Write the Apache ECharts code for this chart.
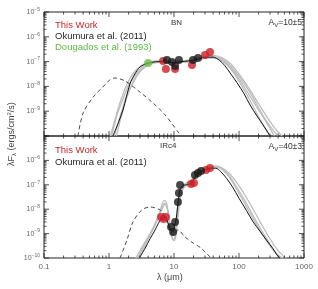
<!DOCTYPE html>
<html><head><meta charset="utf-8">
<script src="https://cdn.jsdelivr.net/npm/echarts@6/dist/echarts.min.js"></script>
<style>html,body{margin:0;padding:0;background:#fff}#c{width:318px;height:289px}</style>
</head><body><div id="c"></div>
<script>
// ---- tick labels ----
const xTickLabels = {'-1':'0.1','0':'1','1':'10','2':'100','3':'1000'};
const yTickExps = {'-5':'−5','-6':'−6','-7':'−7','-8':'−8','-9':'−9','-10':'−10'};
const xDecades = [0.1, 1, 10, 100];
const yDecades = [1e-10, 1e-9, 1e-8, 1e-7, 1e-6];
const minorMultipliers = [2, 3, 4, 5, 6, 7, 8, 9];

// ---- BN panel (log10 flux values) ----
const bnRedLam = [6.8, 7.5, 10.4, 18.9, 30, 35.8];
const bnRedLogF = [-6.98, -7.30, -7.30, -7.14, -6.73, -6.61];
const bnBlackLam = [7.8, 9.3, 10.4, 11.9, 19.6, 23.4];
const bnBlackLogF = [-6.94, -7.02, -7.18, -6.94, -6.94, -6.85];
const bnGreenLam = [4.0];
const bnGreenLogF = [-7.06];
const bnModelLam = [1.15, 1.4, 1.64, 2.1, 2.5, 3.0, 4.0, 6.0, 8.0, 10, 13, 16, 20, 25, 30, 40, 50, 60, 75, 93, 120, 148, 190, 234, 270, 300];
const bnModelLogF = [-10, -9.45, -8.95, -7.9, -7.5, -7.22, -7.06, -7.0, -7.02, -7.04, -7.0, -6.98, -6.95, -6.88, -6.82, -6.82, -6.95, -7.15, -7.5, -7.85, -8.3, -8.75, -9.2, -9.55, -9.8, -10];
const bnGray1Lam = [1.05, 1.25, 1.5, 1.9, 2.4, 3.0, 4.0, 6, 10, 15, 20, 30, 40, 55, 75, 100, 140, 200, 280, 360, 460];
const bnGray1LogF = [-10, -9.3, -8.6, -7.9, -7.45, -7.2, -7.02, -6.96, -6.98, -6.95, -6.9, -6.78, -6.75, -6.85, -7.1, -7.5, -8.05, -8.7, -9.3, -9.7, -10];
const bnGray2Lam = [1.2, 1.45, 1.75, 2.2, 2.7, 3.3, 4.2, 6, 10, 15, 20, 30, 40, 55, 75, 100, 140, 200, 270, 350];
const bnGray2LogF = [-10, -9.3, -8.6, -7.95, -7.55, -7.3, -7.1, -7.03, -7.06, -7.02, -6.98, -6.87, -6.85, -6.95, -7.25, -7.7, -8.3, -8.95, -9.5, -10];
const bnGray3Lam = [1.3, 1.55, 1.9, 2.4, 3.0, 3.6, 4.5, 6, 10, 15, 20, 30, 40, 55, 75, 100, 140, 190, 250, 320, 400];
const bnGray3LogF = [-10, -9.2, -8.4, -7.8, -7.4, -7.2, -7.07, -7.0, -7.02, -6.99, -6.94, -6.84, -6.8, -6.9, -7.2, -7.6, -8.15, -8.75, -9.3, -9.7, -10];
const bnGray4Lam = [1.1, 1.35, 1.65, 2.0, 2.6, 3.2, 4, 6, 10, 15, 20, 30, 40, 55, 75, 100, 140, 180, 240, 300];
const bnGray4LogF = [-10, -9.1, -8.5, -7.95, -7.5, -7.25, -7.08, -7.02, -7.04, -7.0, -6.96, -6.86, -6.84, -6.97, -7.3, -7.8, -8.45, -9.0, -9.6, -10];
const bnDashLam = [0.333, 0.40, 0.57, 0.78, 1.03, 1.24, 1.76, 3.0, 4.75, 7.3, 12.8];
const bnDashLogF = [-10, -9.07, -8.43, -8.06, -7.74, -7.66, -7.78, -8.23, -8.67, -9.15, -10];

// ---- IRc4 panel ----
const irRedLam = [6.3, 6.9, 7.5, 18.3, 20.3, 31, 35.8];
const irRedLogF = [-8.32, -8.4, -8.32, -6.97, -6.93, -6.39, -6.31];
const irBlackLam = [9.0, 9.7, 10.4, 11.5, 11.9, 12.4, 21, 23.4, 26];
const irBlackLogF = [-8.73, -8.93, -8.52, -7.70, -7.34, -7.01, -6.60, -6.52, -6.43];
const irModelLam = [2.9, 3.6, 4.3, 5.0, 5.7, 6.4, 7.0, 7.7, 8.4, 9.0, 9.6, 10.2, 10.8, 11.3, 11.9, 12.5, 14, 16, 18.5, 21, 25, 30, 36, 44, 52, 65, 80, 100, 130, 165, 210, 270, 330, 385, 430];
const irModelLogF = [-10, -9.6, -9.2, -8.9, -8.6, -8.35, -8.28, -8.4, -8.7, -8.85, -8.95, -8.7, -8.4, -7.95, -7.45, -7.15, -7.02, -7.0, -6.95, -6.7, -6.5, -6.4, -6.33, -6.32, -6.45, -6.75, -7.1, -7.55, -8.05, -8.52, -8.9, -9.3, -9.6, -9.88, -10];
const irGray1Lam = [2.6, 3.3, 4.3, 5.2, 6.0, 7.0, 7.6, 8.3, 9.0, 9.7, 10.4, 11.1, 11.8, 12.6, 14, 17, 21, 26, 32, 40, 50, 62, 80, 100, 130, 170, 220, 290, 380, 470];
const irGray1LogF = [-10, -9.5, -9.0, -8.55, -8.15, -7.65, -7.7, -8.3, -8.9, -9.05, -8.8, -8.2, -7.6, -7.2, -7.0, -6.88, -6.65, -6.45, -6.32, -6.25, -6.3, -6.5, -6.9, -7.35, -7.9, -8.45, -8.95, -9.45, -9.85, -10];
const irGray2Lam = [2.8, 3.5, 4.5, 5.4, 6.2, 7.1, 7.8, 8.5, 9.2, 9.9, 10.6, 11.3, 12, 13, 15, 18, 22, 28, 35, 44, 55, 70, 90, 120, 160, 210, 280, 360, 450];
const irGray2LogF = [-10, -9.45, -8.95, -8.5, -8.1, -7.75, -7.9, -8.55, -9.1, -9.25, -8.95, -8.3, -7.7, -7.25, -7.0, -6.85, -6.62, -6.42, -6.3, -6.26, -6.35, -6.6, -7.05, -7.6, -8.2, -8.75, -9.3, -9.75, -10];
const irGray3Lam = [3.0, 3.8, 4.7, 5.6, 6.4, 7.2, 8.0, 8.7, 9.4, 10.1, 10.8, 11.5, 12.3, 13.5, 16, 19, 23, 29, 36, 45, 56, 72, 95, 125, 165, 215, 290, 400, 520];
const irGray3LogF = [-10, -9.35, -8.85, -8.4, -8.05, -7.8, -8.05, -8.7, -9.2, -9.3, -9.0, -8.35, -7.7, -7.2, -6.98, -6.82, -6.6, -6.4, -6.28, -6.24, -6.32, -6.55, -6.95, -7.45, -8.0, -8.55, -9.15, -9.7, -10];
const irDashLam = [1.48, 1.89, 2.34, 3.2, 4.3, 6.1, 7.3, 8.5, 9.7, 11.5, 14.8, 20, 26, 37];
const irDashLogF = [-10, -9.26, -8.52, -8.03, -7.91, -8.03, -8.3, -8.8, -9.06, -8.85, -9.14, -9.4, -9.59, -10];

const pts = (lam, lf) => lam.map((l, i) => [l, Math.pow(10, lf[i])]);
const XMIN = 0.1, XMAX = 1000, YMIN = 1e-10, YMAX = 1e-5;
const xMajor = xDecades.concat([1000]);
const yMajor = yDecades.concat([1e-5]);
const xMinor = [], yMinor = [];
xDecades.forEach(d => minorMultipliers.forEach(m => xMinor.push(+(d * m).toPrecision(3))));
yDecades.forEach(d => minorMultipliers.forEach(m => yMinor.push(+(d * m).toPrecision(3))));

const FONT = 'Liberation Sans';
const axisCol = '#222';
function xAxis(grid, pos, labels) {
  return {
    type: 'log', logBase: 10, min: XMIN, max: XMAX, gridIndex: grid, position: pos,
    axisLine: {show: false}, axisTick: {show: false}, splitLine: {show: false},
    axisLabel: {show: labels, color: '#666', fontSize: 8, fontFamily: FONT, margin: 5,
      formatter: v => xTickLabels[String(Math.round(Math.log10(v)))] || ''}
  };
}
function yAxis(grid, pos, labels, showMin, showMax) {
  return {
    type: 'log', logBase: 10, min: YMIN, max: YMAX, gridIndex: grid, position: pos,
    axisLine: {show: false}, axisTick: {show: false}, splitLine: {show: false},
    axisLabel: {show: labels, showMinLabel: showMin, showMaxLabel: showMax, color: '#666', fontSize: 7, fontFamily: FONT, margin: 4,
      formatter: v => '10{s|' + yTickExps[String(Math.round(Math.log10(v)))] + '}',
      rich: {s: {fontSize: 5, verticalAlign: 'top', padding: [0, 0, 5, 0], color: '#666', fontFamily: FONT}}}
  };
}
// tick marks drawn inside the frame on all four sides, positioned by the axes' own scales
function tickSeries(xi, yi, vals, isX, len) {
  return {
    type: 'custom', xAxisIndex: xi, yAxisIndex: yi, silent: true, z: 20, clip: false, animation: false,
    data: vals.map(v => isX ? [v, 1e-7] : [1, v]),
    renderItem: (params, api) => {
      const st = {stroke: axisCol, lineWidth: 0.8};
      if (isX) {
        const v = api.value(0);
        const a = api.coord([v, YMIN]), b = api.coord([v, YMAX]);
        return {type: 'group', children: [
          {type: 'line', shape: {x1: a[0], y1: a[1], x2: a[0], y2: a[1] - len}, style: st},
          {type: 'line', shape: {x1: b[0], y1: b[1], x2: b[0], y2: b[1] + len}, style: st}]};
      }
      const v = api.value(1);
      const a = api.coord([XMIN, v]), b = api.coord([XMAX, v]);
      return {type: 'group', children: [
        {type: 'line', shape: {x1: a[0], y1: a[1], x2: a[0] + len, y2: a[1]}, style: st},
        {type: 'line', shape: {x1: b[0], y1: b[1], x2: b[0] - len, y2: b[1]}, style: st}]};
    }
  };
}
function line(xi, yi, data, color, width, z, dash) {
  return {type: 'line', xAxisIndex: xi, yAxisIndex: yi, data, showSymbol: false, smooth: 0.3,
    lineStyle: {color, width, type: dash ? [4, 3] : 'solid'}, z, silent: true, clip: true, animation: false};
}
function scat(xi, yi, data, color) {
  return {type: 'scatter', xAxisIndex: xi, yAxisIndex: yi, data, symbolSize: 8,
    itemStyle: {color, borderWidth: 0}, z: 10, animation: false};
}
const grayC = '#bdbdbd';
const option = {
  animation: false,
  grid: [
    {left: 44, top: 12, width: 260, height: 124, show: true, borderColor: axisCol, borderWidth: 1, backgroundColor: 'transparent'},
    {left: 44, top: 136, width: 260, height: 122, show: true, borderColor: axisCol, borderWidth: 1, backgroundColor: 'transparent'}
  ],
  xAxis: [xAxis(0, 'bottom', false), xAxis(0, 'top', false), xAxis(1, 'bottom', true), xAxis(1, 'top', false)],
  yAxis: [yAxis(0, 'left', true, false, true), yAxis(0, 'right', false, true, true), yAxis(1, 'left', true, true, false), yAxis(1, 'right', false, true, true)],
  series: [
    line(0, 0, pts(bnGray1Lam, bnGray1LogF), grayC, 1.3, 2),
    line(0, 0, pts(bnGray2Lam, bnGray2LogF), grayC, 1.3, 2),
    line(0, 0, pts(bnGray3Lam, bnGray3LogF), grayC, 1.3, 2),
    line(0, 0, pts(bnGray4Lam, bnGray4LogF), grayC, 1.3, 2),
    line(0, 0, pts(bnModelLam, bnModelLogF), '#111', 1, 3),
    line(0, 0, pts(bnDashLam, bnDashLogF), '#333', 0.9, 3, true),
    scat(0, 0, pts(bnRedLam, bnRedLogF), '#cc1f27'),
    scat(0, 0, pts(bnBlackLam, bnBlackLogF), '#1a1a1a'),
    scat(0, 0, pts(bnGreenLam, bnGreenLogF), '#6cbf45'),
    line(2, 2, pts(irGray1Lam, irGray1LogF), grayC, 1.3, 2),
    line(2, 2, pts(irGray2Lam, irGray2LogF), grayC, 1.3, 2),
    line(2, 2, pts(irGray3Lam, irGray3LogF), grayC, 1.3, 2),
    line(2, 2, pts(irModelLam, irModelLogF), '#111', 1, 3),
    line(2, 2, pts(irDashLam, irDashLogF), '#333', 0.9, 3, true),
    scat(2, 2, pts(irRedLam, irRedLogF), '#cc1f27'),
    scat(2, 2, pts(irBlackLam, irBlackLogF), '#1a1a1a'),
    tickSeries(0, 0, xMajor, true, 5), tickSeries(0, 0, xMinor, true, 2.5),
    tickSeries(0, 0, yMajor, false, 5), tickSeries(0, 0, yMinor, false, 2.5),
    tickSeries(2, 2, xMajor, true, 5), tickSeries(2, 2, xMinor, true, 2.5),
    tickSeries(2, 2, yMajor, false, 5), tickSeries(2, 2, yMinor, false, 2.5)
  ],
  graphic: [
    {type: 'text', left: 55, top: 20, style: {text: 'This Work', fill: '#c1272d', font: '9.5px ' + FONT}},
    {type: 'text', left: 55, top: 31, style: {text: 'Okumura et al. (2011)', fill: '#231f20', font: '9.5px ' + FONT}},
    {type: 'text', left: 55, top: 42, style: {text: 'Dougados et al. (1993)', fill: '#5cb946', font: '9.5px ' + FONT}},
    {type: 'text', left: 171, top: 19, style: {text: 'BN', fill: '#333', font: '8px ' + FONT}},
    {type: 'text', right: 16, top: 18, style: {text: 'A{s|V}=10±5', fill: '#333', font: '8.5px ' + FONT,
      rich: {s: {fontSize: 6, padding: [5, 0, 0, 0], fill: '#333', fontFamily: FONT}}}},
    {type: 'text', left: 55, top: 145, style: {text: 'This Work', fill: '#c1272d', font: '9.5px ' + FONT}},
    {type: 'text', left: 55, top: 157, style: {text: 'Okumura et al. (2011)', fill: '#231f20', font: '9.5px ' + FONT}},
    {type: 'text', left: 160, top: 142, style: {text: 'IRc4', fill: '#333', font: '8px ' + FONT}},
    {type: 'text', right: 16, top: 142, style: {text: 'A{s|V}=40±3', fill: '#333', font: '8.5px ' + FONT,
      rich: {s: {fontSize: 6, padding: [5, 0, 0, 0], fill: '#333', fontFamily: FONT}}}},
    {type: 'text', x: 157, y: 273, style: {text: 'λ (μm)', fill: '#444', font: '9px ' + FONT}},
    {type: 'text', x: 6, y: 166, rotation: Math.PI / 2, style: {text: 'λF{s|λ} (ergs/cm{p|2}/s)', fill: '#444', font: '9px ' + FONT,
      rich: {s: {fontSize: 6, padding: [5, 0, 0, 0], fill: '#444', fontFamily: FONT}, p: {fontSize: 6, padding: [0, 0, 5, 0], fill: '#444', fontFamily: FONT}}}}
  ]
};
const chart = echarts.init(document.getElementById('c'), null, {renderer: 'canvas'});
chart.setOption(option);
</script>
</body></html>
